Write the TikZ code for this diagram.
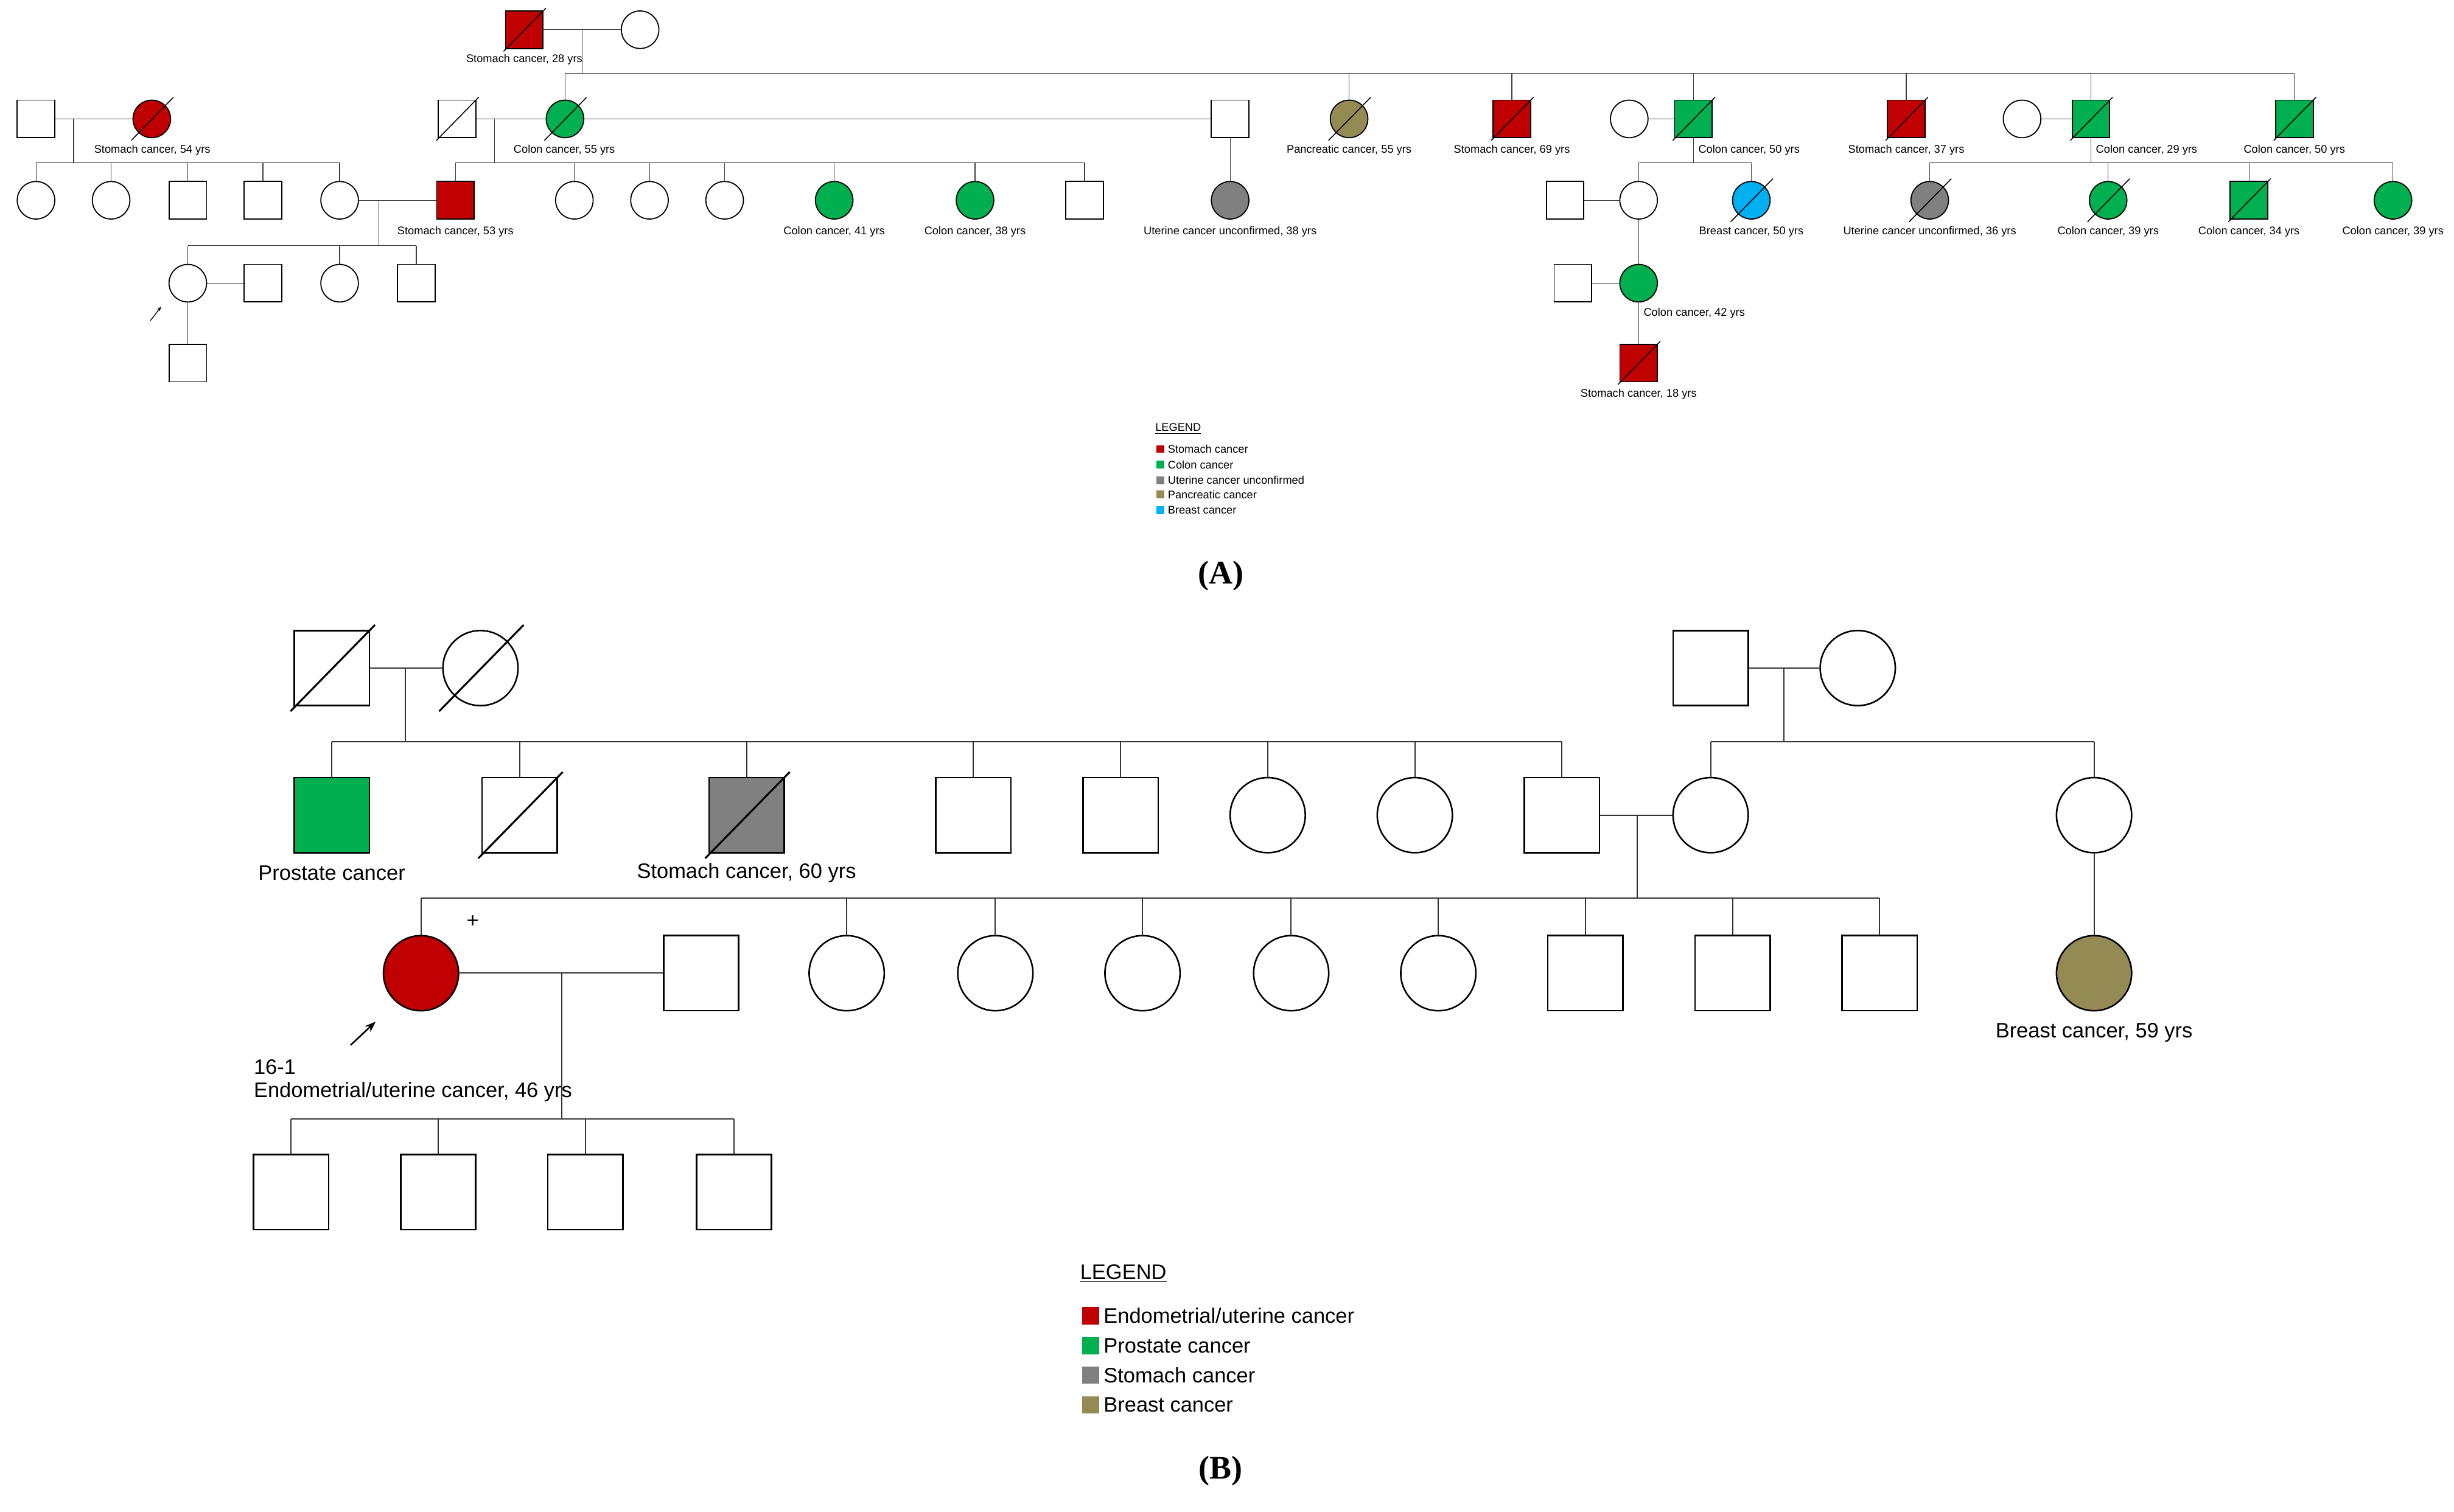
\documentclass[tikz,border=0pt]{standalone}
\usepackage{fontspec}
\setmainfont{Liberation Sans}
\usetikzlibrary{arrows.meta}
\definecolor{cred}{HTML}{C00000}
\definecolor{cgreen}{HTML}{00B050}
\definecolor{cgray}{HTML}{808080}
\definecolor{ctan}{HTML}{948A54}
\definecolor{cblue}{HTML}{00B0F0}
\newcommand\dd[2]{\draw[line width=#2/12*0.6pt] (#1.center) ++({-#2*1.1},{#2*1.15}) -- ++({#2*2.25},{-#2*2.3});}
\begin{document}
\begin{tikzpicture}[x=1pt,y=-1pt,
 am/.style={draw,rectangle,minimum size=24pt,inner sep=0,line width=.7pt,fill=white},
 af/.style={draw,circle,minimum size=24pt,inner sep=0,line width=.7pt,fill=white},
 bm/.style={draw,rectangle,minimum size=48pt,inner sep=0,line width=1pt,fill=white},
 bf/.style={draw,circle,minimum size=48pt,inner sep=0,line width=1pt,fill=white},
 al/.style={font=\fontsize{7.1}{8}\selectfont,inner sep=0},
 bl/.style={font=\fontsize{13.4}{15}\selectfont,inner sep=0},
 la/.style={line width=.5pt,draw=black!75},
 lb/.style={line width=.8pt,draw=black!80}]
\useasboundingbox (0,0) rectangle (1568,966);
% ================= A =================
\node[am,fill=cred] (a1) at (335,19) {}; \node[af] (a2) at (409,19) {};
\dd{a1}{12}
\node[al] (la1) at (335,38) {Stomach cancer, 28 yrs};
\draw[la] (a1.east) -- (a2.west);
\coordinate (s1) at (372,19); \coordinate (s1b) at (372,47);
\draw[la] (s1) -- (s1b);
\draw[la] (361,47) -- (1466,47);
\node[am] (b1) at (23,76) {}; \node[af,fill=cred] (b2) at (97,76) {}; \dd{b2}{12}
\node[al,anchor=west] (lb2) at (60,96) {Stomach cancer, 54 yrs};
\draw[la] (b1.east) -- (b2.west);
\node[am] (b3) at (292,76) {}; \dd{b3}{12}
\node[af,fill=cgreen] (b4) at (361,76) {}; \dd{b4}{12}
\node[al,anchor=west] (lb4) at (328,96) {Colon cancer, 55 yrs};
\node[am] (b5) at (786,76) {};
\node[af,fill=ctan] (b6) at (862,76) {}; \dd{b6}{12}
\node[al] (lb6) at (862,96) {Pancreatic cancer, 55 yrs};
\node[am,fill=cred] (b7) at (966,76) {}; \dd{b7}{12}
\node[al] (lb7) at (966,96) {Stomach cancer, 69 yrs};
\node[af] (b8) at (1041,76) {};
\node[am,fill=cgreen] (b9) at (1082,76) {}; \dd{b9}{12}
\node[al,anchor=west] (lb9) at (1085,96) {Colon cancer, 50 yrs};
\node[am,fill=cred] (b10) at (1218,76) {}; \dd{b10}{12}
\node[al] (lb10) at (1218,96) {Stomach cancer, 37 yrs};
\node[af] (b11) at (1292,76) {};
\node[am,fill=cgreen] (b12) at (1336,76) {}; \dd{b12}{12}
\node[al,anchor=west] (lb12) at (1339,96) {Colon cancer, 29 yrs};
\node[am,fill=cgreen] (b13) at (1466,76) {}; \dd{b13}{12}
\node[al] (lb13) at (1466,96) {Colon cancer, 50 yrs};
\foreach \n in {b4,b6,b7,b9,b10,b12,b13} \draw[la] (\n.north) -- (\n.north |- s1b);
\draw[la] (b3.east) -- (b4.west);
\draw[la] (b4.east) -- (b5.west);
\draw[la] (b8.east) -- (b9.west);
\draw[la] (b11.east) -- (b12.west);
\foreach \n/\x/\s in {c1/23/af,c2/71/af,c3/120/am,c4/168/am,c5/217/af} \node[\s] (\n) at (\x,128) {};
\draw[la] (47,76) -- (47,104); \draw[la] (23,104) -- (217,104);
\foreach \n in {c1,c2,c3,c4,c5} \draw[la] (\n.north) -- (\n.north |- 0,104);
\node[am,fill=cred] (c6) at (291,128) {};
\node[al] (lc6) at (291,148) {Stomach cancer, 53 yrs};
\draw[la] (c5.east) -- (c6.west);
\foreach \n/\x/\s/\f in {c7/367/af/white,c8/415/af/white,c9/463/af/white,c10/533/af/cgreen,c11/623/af/cgreen,c12/693/am/white}
  \node[\s,fill=\f] (\n) at (\x,128) {};
\node[al] (lc10) at (533,148) {Colon cancer, 41 yrs};
\node[al] (lc11) at (623,148) {Colon cancer, 38 yrs};
\draw[la] (316,76) -- (316,104); \draw[la] (291,104) -- (693,104);
\foreach \n in {c6,c7,c8,c9,c10,c11,c12} \draw[la] (\n.north) -- (\n.north |- 0,104);
\node[af,fill=cgray] (c13) at (786,128) {};
\node[al] (lc13) at (786,148) {Uterine cancer unconfirmed, 38 yrs};
\draw[la] (b5.south) -- (c13.north);
\node[am] (c14) at (1000,128) {}; \node[af] (c15) at (1047,128) {};
\node[af,fill=cblue] (c16) at (1119,128) {}; \dd{c16}{12}
\node[al] (lc16) at (1119,148) {Breast cancer, 50 yrs};
\draw[la] (c14.east) -- (c15.west);
\draw[la] (1082,88) -- (1082,104); \draw[la] (1047,104) -- (1119,104);
\foreach \n in {c15,c16} \draw[la] (\n.north) -- (\n.north |- 0,104);
\node[af,fill=cgray] (c17) at (1233,128) {}; \dd{c17}{12}
\node[al] (lc17) at (1233,148) {Uterine cancer unconfirmed, 36 yrs};
\node[af,fill=cgreen] (c18) at (1347,128) {}; \dd{c18}{12}
\node[al] (lc18) at (1347,148) {Colon cancer, 39 yrs};
\node[am,fill=cgreen] (c19) at (1437,128) {}; \dd{c19}{12}
\node[al] (lc19) at (1437,148) {Colon cancer, 34 yrs};
\node[af,fill=cgreen] (c20) at (1529,128) {};
\node[al] (lc20) at (1529,148) {Colon cancer, 39 yrs};
\draw[la] (1336,88) -- (1336,104); \draw[la] (1233,104) -- (1529,104);
\foreach \n in {c17,c18,c19,c20} \draw[la] (\n.north) -- (\n.north |- 0,104);
\foreach \n/\x/\s in {d1/120/af,d2/168/am,d3/217/af,d4/266/am} \node[\s] (\n) at (\x,181) {};
\draw[la] (242,128) -- (242,157); \draw[la] (120,157) -- (266,157);
\foreach \n in {d1,d3,d4} \draw[la] (\n.north) -- (\n.north |- 0,157);
\draw[la] (d1.east) -- (d2.west);
\coordinate (pa) at (96,205);
\draw[-{Stealth[length=3pt]},line width=.5pt] (pa) -- (103,196);
\node[am] (d5) at (1005,181) {}; \node[af,fill=cgreen] (d6) at (1047,181) {};
\node[al,anchor=west] (ld6) at (1050,200) {Colon cancer, 42 yrs};
\draw[la] (d5.east) -- (d6.west);
\draw[la] (c15.south) -- (d6.north);
\node[am] (e1) at (120,232) {};
\draw[la] (d1.south) -- (e1.north);
\node[am,fill=cred] (e2) at (1047,232) {}; \dd{e2}{12}
\node[al] (le2) at (1047,252) {Stomach cancer, 18 yrs};
\draw[la] (d6.south) -- (e2.north);
\node[al,anchor=west] (lga) at (738,274) {\underline{LEGEND}};
\foreach \y/\c/\t [count=\i] in {287/cred/Stomach cancer,297/cgreen/Colon cancer,307/cgray/Uterine cancer unconfirmed,316/ctan/Pancreatic cancer,326/cblue/Breast cancer}{
  \node[fill=\c,minimum size=5pt,inner sep=0] (lgas\i) at (741.5,\y) {};
  \node[al,anchor=west] (lgat\i) at (746,\y) {\t};}
\node[font=\fontsize{21}{24}\selectfont\bfseries] (capA) at (780,368) {\fontspec{Liberation Serif}(A)};
% ================= B =================
\node[bm] (f1) at (212,427) {}; \dd{f1}{24}
\node[bf] (f2) at (307,427) {}; \dd{f2}{24}
\draw[lb] (f1.east) -- (f2.west);
\node[bm] (f3) at (1093,427) {}; \node[bf] (f4) at (1187,427) {};
\draw[lb] (f3.east) -- (f4.west);
\draw[lb] (259,427) -- (259,474); \draw[lb] (212,474) -- (998,474);
\draw[lb] (1140,427) -- (1140,474); \draw[lb] (1093,474) -- (1338,474);
\node[bm,fill=cgreen] (g1) at (212,521) {};
\node[bl] (lg1) at (212,558) {Prostate cancer};
\node[bm] (g2) at (332,521) {}; \dd{g2}{24}
\node[bm,fill=cgray] (g3) at (477,521) {}; \dd{g3}{24}
\node[bl] (lg3) at (477,558) {Stomach cancer, 60 yrs};
\foreach \n/\x/\s in {g4/622/bm,g5/716/bm,g6/810/bf,g7/904/bf,g8/998/bm} \node[\s] (\n) at (\x,521) {};
\node[bf] (g9) at (1093,521) {};
\node[bf] (g10) at (1338,521) {};
\foreach \n in {g1,g2,g3,g4,g5,g6,g7,g8} \draw[lb] (\n.north) -- (\n.north |- 0,474);
\foreach \n in {g9,g10} \draw[lb] (\n.north) -- (\n.north |- 0,474);
\draw[lb] (g8.east) -- (g9.west);
\draw[lb] (1046,521) -- (1046,574); \draw[lb] (269,574) -- (1201,574);
\node[bf,fill=cred] (h1) at (269,622) {};
\node[bl] (plus) at (302,589) {+};
\node[bm] (h2) at (448,622) {};
\draw[lb] (h1.east) -- (h2.west);
\foreach \n/\x/\s in {h3/541/bf,h4/636/bf,h5/730/bf,h6/825/bf,h7/919/bf,h8/1013/bm,h9/1107/bm,h10/1201/bm} \node[\s] (\n) at (\x,622) {};
\foreach \n in {h1,h3,h4,h5,h6,h7,h8,h9,h10} \draw[lb] (\n.north) -- (\n.north |- 0,574);
\node[bf,fill=ctan] (h11) at (1338,622) {};
\draw[lb] (g10.south) -- (h11.north);
\node[bl] (lh11) at (1338,660) {Breast cancer, 59 yrs};
\coordinate (pb) at (224,668);
\draw[-{Stealth[length=7pt]},line width=1pt] (pb) -- (240,653);
\node[bl,anchor=west] (lh1a) at (162,682) {16-1};
\node[bl,anchor=west] (lh1b) at (162,698) {Endometrial/uterine cancer, 46 yrs};
\draw[lb] (359,622) -- (359,715); \draw[lb] (186,715) -- (469,715);
\foreach \n/\x in {k1/186,k2/280,k3/374,k4/469} {\node[bm] (\n) at (\x,762) {}; \draw[lb] (\n.north) -- (\n.north |- 0,715);}
\node[bl,anchor=west] (lgb) at (690,814) {\underline{LEGEND}};
\foreach \y/\c/\t [count=\i] in {841/cred/{Endometrial/uterine cancer},860/cgreen/Prostate cancer,879/cgray/Stomach cancer,898/ctan/Breast cancer}{
  \node[fill=\c,minimum size=11pt,inner sep=0] (lgbs\i) at (697,\y) {};
  \node[bl,anchor=west] (lgbt\i) at (705,\y) {\t};}
\node[font=\fontsize{21}{24}\selectfont\bfseries] (capB) at (780,940) {\fontspec{Liberation Serif}(B)};
\end{tikzpicture}
\end{document}
